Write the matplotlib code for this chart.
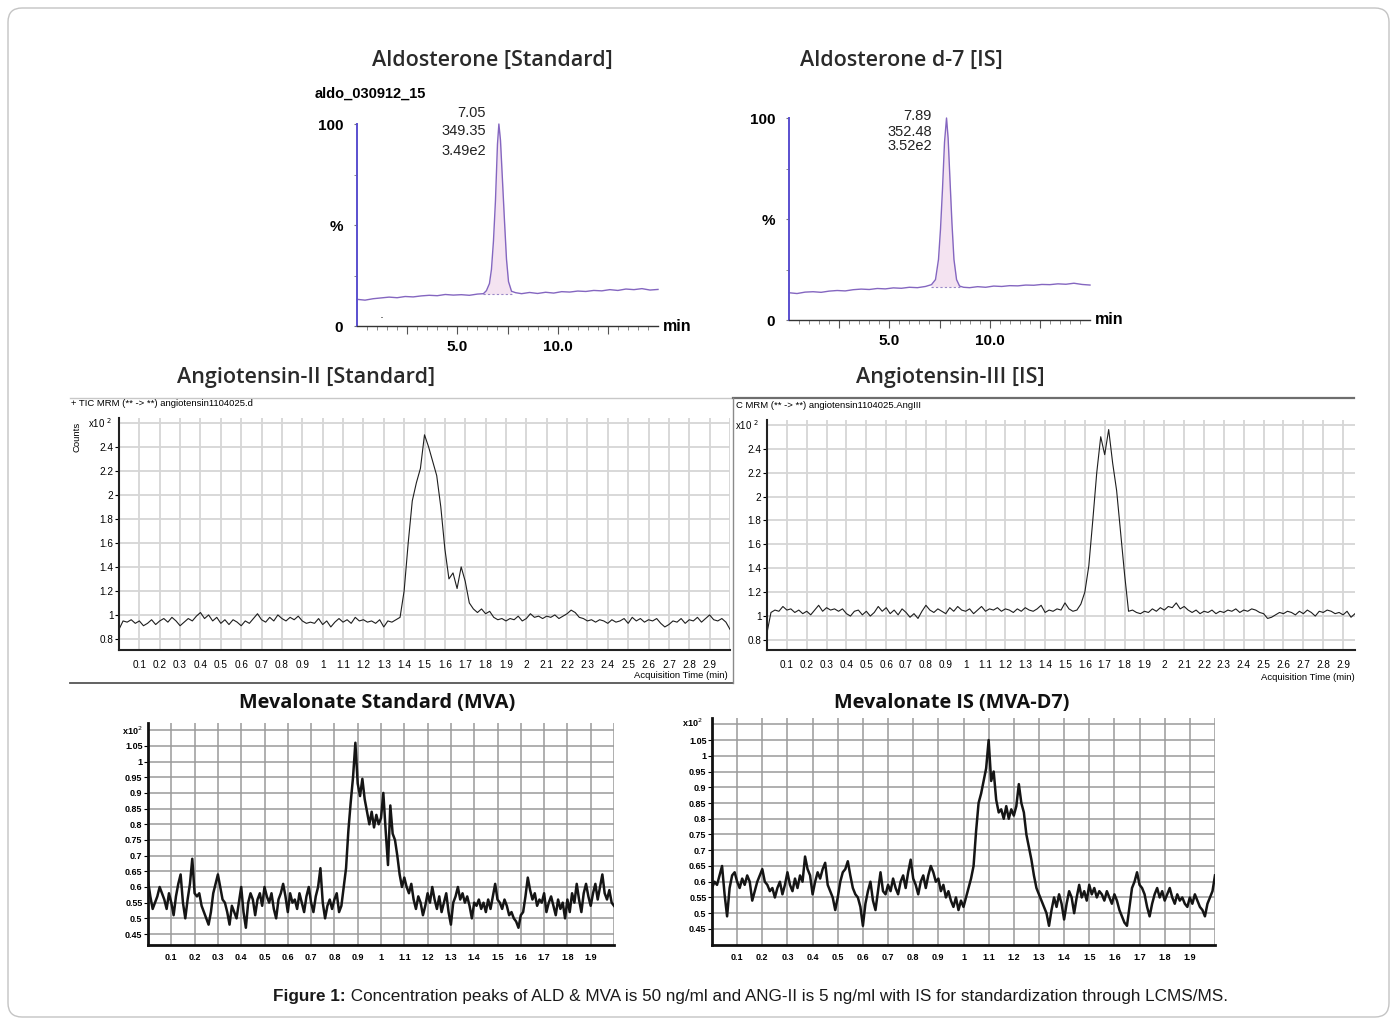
import numpy as np
import matplotlib
matplotlib.use('Agg')
import matplotlib.pyplot as plt
from matplotlib.patches import FancyBboxPatch

W, H = 1398, 1025

# ---- Aldosterone chromatograms (time in min, intensity in %) ----
aldo_std_t = [0.0, 0.4, 0.8, 1.2, 1.6, 2.0, 2.4, 2.8, 3.2, 3.6, 4.0, 4.4, 4.8, 5.2, 5.6, 6.0,
              6.3, 6.45, 6.6, 6.7, 6.8, 6.9, 7.0, 7.07, 7.15, 7.25, 7.35, 7.45, 7.55, 7.7,
              7.9, 8.2, 8.6, 9.0, 9.4, 9.8, 10.2, 10.6, 11.0, 11.4, 11.8, 12.2, 12.6, 13.0,
              13.4, 13.8, 14.2, 14.6, 15.0]
aldo_std_i = [13.2, 12.8, 13.5, 13.9, 14.3, 14.0, 14.6, 14.4, 14.9, 15.2, 15.0, 15.6, 15.3, 15.5, 15.2, 15.8,
              16.0, 17.5, 21.0, 28.0, 42.0, 62.0, 90.0, 100.0, 92.0, 72.0, 52.0, 33.0, 22.0, 17.2,
              16.5, 16.0, 16.6, 16.1, 16.7, 16.3, 17.0, 16.8, 17.3, 17.1, 17.6, 17.4, 18.0, 17.6,
              18.3, 18.0, 18.5, 17.8, 18.1]

aldo_is_t = [0.0, 0.4, 0.8, 1.2, 1.6, 2.0, 2.4, 2.8, 3.2, 3.6, 4.0, 4.4, 4.8, 5.2, 5.6, 6.0, 6.4, 6.8,
             7.1, 7.3, 7.45, 7.55, 7.65, 7.75, 7.85, 7.93, 8.02, 8.12, 8.22, 8.35, 8.5, 8.7,
             9.0, 9.4, 9.8, 10.2, 10.6, 11.0, 11.4, 11.8, 12.2, 12.6, 13.0, 13.4, 13.8, 14.2, 14.6, 15.0]
aldo_is_i = [13.5, 13.1, 13.8, 14.0, 13.7, 14.3, 14.6, 14.4, 15.0, 15.3, 15.1, 15.6, 15.4, 15.9, 15.7, 16.2, 16.0, 16.6,
             17.5, 20.0, 30.0, 45.0, 65.0, 88.0, 100.0, 90.0, 70.0, 48.0, 30.0, 20.0, 16.8, 16.2,
             16.0, 16.5, 16.2, 16.8, 16.6, 17.0, 16.9, 17.3, 17.2, 17.6, 17.5, 17.9, 17.7, 18.2, 17.6, 17.3]

# ---- Angiotensin traces (counts x10^2), 0.02 min sampling ----
ang2_t = np.linspace(0, 3.0, 151)
ang2_v = [0.88, 0.95, 0.94, 0.96, 0.93, 0.95, 0.91, 0.93, 0.96, 0.92,
          0.95, 0.97, 0.94, 0.98, 0.95, 0.91, 0.94, 0.97, 0.95, 0.99,
          1.02, 0.97, 1.00, 0.95, 0.98, 0.93, 0.96, 0.92, 0.96, 0.94,
          0.91, 0.95, 0.93, 0.97, 1.01, 0.96, 0.94, 0.98, 0.95, 1.00,
          0.97, 0.95, 0.98, 0.96, 0.99, 0.95, 0.93, 0.94, 0.93, 0.97,
          0.92, 0.95, 0.90, 0.94, 0.97, 0.94, 0.96, 0.93, 0.98, 0.95,
          0.96, 0.94, 0.95, 0.93, 0.96, 0.90, 0.95, 0.94, 0.96, 0.98,
          1.20, 1.60, 1.95, 2.10, 2.22, 2.50, 2.40, 2.28, 2.16, 1.90,
          1.55, 1.30, 1.35, 1.22, 1.40, 1.28, 1.10, 1.05, 1.02, 1.05,
          1.01, 1.03, 0.98, 0.96, 0.97, 0.95, 0.97, 0.96, 0.99, 0.95,
          0.97, 1.01, 0.98, 0.99, 0.97, 0.99, 0.98, 1.00, 0.97, 0.99,
          1.01, 1.04, 1.02, 0.98, 0.97, 0.95, 0.96, 0.94, 0.96, 0.95,
          0.93, 0.96, 0.94, 0.95, 0.97, 0.93, 0.98, 0.95, 0.97, 0.94,
          0.96, 0.95, 0.97, 0.93, 0.90, 0.92, 0.95, 0.94, 0.97, 0.93,
          0.96, 0.95, 0.98, 0.94, 0.97, 1.00, 0.96, 0.95, 0.97, 0.94,
          0.88]

ang3_t = np.linspace(0, 2.96, 149)
ang3_v = [0.86, 1.03, 1.05, 1.04, 1.08, 1.05, 1.06, 1.03, 1.05, 1.02,
          1.04, 1.01, 1.05, 1.09, 1.04, 1.07, 1.05, 1.06, 1.04, 1.06,
          1.02, 1.00, 1.04, 1.05, 1.01, 1.04, 1.00, 1.03, 1.08, 1.04,
          1.07, 1.02, 1.05, 1.01, 1.06, 1.03, 0.99, 1.02, 0.98, 1.04,
          1.09, 1.05, 1.03, 1.06, 1.04, 1.02, 1.07, 1.04, 1.08, 1.05,
          1.04, 1.06, 1.02, 1.05, 1.08, 1.04, 1.06, 1.05, 1.07, 1.04,
          1.06, 1.05, 1.03, 1.06, 1.04, 1.07, 1.05, 1.04, 1.06, 1.09,
          1.03, 1.05, 1.04, 1.06, 1.05, 1.11, 1.06, 1.04, 1.05, 1.10,
          1.20, 1.42, 1.80, 2.20, 2.50, 2.35, 2.56, 2.28, 2.05, 1.70,
          1.35, 1.04, 1.05, 1.03, 1.02, 1.04, 1.03, 1.06, 1.04, 1.07,
          1.05, 1.08, 1.07, 1.11, 1.06, 1.08, 1.05, 1.03, 1.05, 1.02,
          1.04, 1.03, 1.05, 1.02, 1.04, 1.03, 1.05, 1.04, 1.06, 1.03,
          1.05, 1.04, 1.06, 1.05, 1.03, 1.02, 0.98, 0.99, 1.01, 1.03,
          1.02, 1.04, 1.03, 1.01, 1.04, 1.02, 1.05, 1.03, 1.00, 1.04,
          1.03, 1.05, 1.04, 1.02, 1.03, 1.01, 1.04, 0.99, 1.02]

# ---- Mevalonate traces (x10^2), 0.01 min sampling ----
mva_t = np.linspace(0, 2.0, 201)
mva_std_v = [0.62, 0.57, 0.53, 0.55, 0.57, 0.60, 0.58, 0.56, 0.53, 0.58,
             0.55, 0.51, 0.57, 0.61, 0.64, 0.55, 0.50, 0.56, 0.61, 0.69,
             0.58, 0.57, 0.58, 0.54, 0.52, 0.50, 0.48, 0.52, 0.58, 0.61,
             0.64, 0.60, 0.56, 0.55, 0.52, 0.48, 0.54, 0.52, 0.50, 0.55,
             0.60, 0.52, 0.47, 0.55, 0.58, 0.56, 0.51, 0.56, 0.58, 0.54,
             0.60, 0.57, 0.55, 0.58, 0.53, 0.50, 0.56, 0.58, 0.61, 0.57,
             0.52, 0.58, 0.55, 0.56, 0.53, 0.58, 0.55, 0.52, 0.57, 0.60,
             0.55, 0.52, 0.57, 0.60, 0.66, 0.55, 0.50, 0.54, 0.56, 0.53,
             0.56, 0.58, 0.52, 0.54, 0.60, 0.66, 0.78, 0.87, 0.95, 1.06,
             0.93, 0.89, 0.945, 0.88, 0.84, 0.80, 0.84, 0.79, 0.83, 0.80,
             0.82, 0.90, 0.78, 0.67, 0.86, 0.77, 0.75, 0.70, 0.64, 0.60,
             0.63, 0.60, 0.58, 0.61, 0.56, 0.53, 0.57, 0.55, 0.51, 0.54,
             0.58, 0.55, 0.60, 0.56, 0.53, 0.57, 0.52, 0.55, 0.58, 0.52,
             0.48, 0.55, 0.57, 0.60, 0.56, 0.58, 0.55, 0.57, 0.54, 0.50,
             0.55, 0.54, 0.56, 0.53, 0.55, 0.52, 0.56, 0.53, 0.57, 0.61,
             0.56, 0.55, 0.53, 0.56, 0.54, 0.51, 0.52, 0.50, 0.49, 0.47,
             0.51, 0.52, 0.57, 0.63, 0.59, 0.56, 0.58, 0.54, 0.56, 0.55,
             0.58, 0.52, 0.55, 0.57, 0.54, 0.51, 0.56, 0.53, 0.55, 0.50,
             0.56, 0.52, 0.58, 0.55, 0.61, 0.56, 0.52, 0.58, 0.61, 0.57,
             0.54, 0.58, 0.61, 0.56, 0.60, 0.64, 0.58, 0.56, 0.59, 0.55,
             0.54]
mva_is_v = [0.58, 0.60, 0.59, 0.62, 0.65, 0.56, 0.49, 0.58, 0.62, 0.63,
            0.60, 0.58, 0.61, 0.59, 0.62, 0.60, 0.54, 0.57, 0.60, 0.62,
            0.64, 0.60, 0.59, 0.57, 0.58, 0.55, 0.58, 0.60, 0.56, 0.59,
            0.63, 0.59, 0.57, 0.61, 0.58, 0.62, 0.60, 0.68, 0.64, 0.62,
            0.56, 0.60, 0.63, 0.61, 0.64, 0.66, 0.59, 0.57, 0.55, 0.51,
            0.55, 0.60, 0.63, 0.64, 0.665, 0.62, 0.58, 0.56, 0.55, 0.52,
            0.46, 0.53, 0.57, 0.60, 0.54, 0.51, 0.57, 0.63, 0.57, 0.56,
            0.59, 0.57, 0.61, 0.58, 0.56, 0.60, 0.62, 0.58, 0.63, 0.67,
            0.61, 0.59, 0.56, 0.60, 0.62, 0.58, 0.62, 0.65, 0.63, 0.60,
            0.61, 0.57, 0.59, 0.55, 0.57, 0.54, 0.52, 0.55, 0.51, 0.54,
            0.52, 0.55, 0.58, 0.61, 0.65, 0.76, 0.85, 0.88, 0.92, 0.96,
            1.05, 0.92, 0.95, 0.86, 0.82, 0.83, 0.80, 0.84, 0.80, 0.83,
            0.81, 0.84, 0.91, 0.85, 0.82, 0.75, 0.71, 0.67, 0.62, 0.58,
            0.56, 0.54, 0.52, 0.50, 0.46, 0.51, 0.55, 0.52, 0.56, 0.53,
            0.48, 0.53, 0.57, 0.55, 0.50, 0.55, 0.59, 0.55, 0.57, 0.54,
            0.59, 0.56, 0.58, 0.55, 0.57, 0.56, 0.54, 0.57, 0.55, 0.53,
            0.56, 0.54, 0.51, 0.49, 0.47, 0.46, 0.52, 0.58, 0.60, 0.63,
            0.59, 0.58, 0.56, 0.52, 0.49, 0.53, 0.56, 0.58, 0.55, 0.57,
            0.54, 0.56, 0.58, 0.55, 0.53, 0.56, 0.54, 0.55, 0.53, 0.52,
            0.55, 0.53, 0.56, 0.54, 0.52, 0.51, 0.49, 0.53, 0.55, 0.57,
            0.62]

ang_yticks = [0.8, 1.0, 1.2, 1.4, 1.6, 1.8, 2.0, 2.2, 2.4]
ang_xticks = [round(0.1 * k, 1) for k in range(1, 30)]
mva_yticks = [0.45, 0.5, 0.55, 0.6, 0.65, 0.7, 0.75, 0.8, 0.85, 0.9, 0.95, 1.0, 1.05]
mva_xticks = [round(0.1 * k, 1) for k in range(1, 20)]

SANS = 'Liberation Sans'
TITLE = 'Open Sans'

fig = plt.figure(figsize=(W / 100, H / 100), dpi=100)
bg = fig.add_axes([0, 0, 1, 1])
bg.set_xlim(0, W)
bg.set_ylim(H, 0)
bg.axis('off')

# outer frame and separators
bg.add_patch(FancyBboxPatch((8, 8), W - 17, H - 16, boxstyle='round,pad=0,rounding_size=14',
                            fc='none', ec='#c4c4c4', lw=1.0))
bg.plot([70, 731], [398, 398], color='#c8c8c8', lw=1.0)
bg.plot([733, 1354], [398, 398], color='#6e6e6e', lw=1.6)
bg.plot([70, 733], [683, 683], color='#555555', lw=1.3)
bg.plot([733, 733], [398, 683], color='#8a8a8a', lw=1.0)


def px_axes(x0, y0, x1, y1):
    return fig.add_axes([x0 / W, 1 - y1 / H, (x1 - x0) / W, (y1 - y0) / H])


def fmt(v):
    return f"{v:g}"


def draw_aldo(ax, t, y, lo, hi, base):
    t = np.array(t)
    y = np.array(y)
    m = (t >= lo) & (t <= hi)
    ax.fill_between(t[m], y[m], base, color='#f4e3f1', lw=0)
    ax.plot([lo, hi], [base, base], color='#9a88c8', lw=0.8, ls=(0, (2, 2)))
    ax.plot(t, y, color='#8466c0', lw=1.0, clip_on=False)
    ax.set_xlim(0, 15)
    ax.set_ylim(0, 100)
    for s in ['top', 'right']:
        ax.spines[s].set_visible(False)
    ax.spines['left'].set_color('#5a4fcf')
    ax.spines['left'].set_linewidth(1.4)
    ax.spines['bottom'].set_color('#333333')
    ax.spines['bottom'].set_linewidth(1.0)
    ax.set_xticks([2.5, 5.0, 7.5, 10.0, 12.5])
    ax.set_xticklabels(['', '5.0', '', '10.0', ''], fontsize=11, fontweight='bold', family=SANS)
    ax.set_xticks([k * 0.5 for k in range(1, 30)], minor=True)
    ax.tick_params(axis='x', which='major', length=6, color='#555', pad=4)
    ax.tick_params(axis='x', which='minor', length=3, color='#777')
    ax.set_yticks([0, 50, 100])
    ax.set_yticklabels(['0', '%', '100'], fontsize=11, fontweight='bold', family=SANS)
    ax.set_yticks([25, 75], minor=True)
    ax.tick_params(axis='y', which='both', length=2, color='#777', pad=8)
    ax.text(1.015, 0, 'min', transform=ax.transAxes, va='center', ha='left',
            fontsize=11.5, fontweight='bold', family=SANS)
    ax.patch.set_alpha(0)


def draw_ang(ax, t, v, xmax, ymin, ymax):
    for x in ang_xticks + [3.0]:
        if x <= xmax:
            ax.axvline(x, color='#d6d6d6', lw=1.3, zorder=0)
    for y in ang_yticks + [2.6]:
        ax.axhline(y, color='#d6d6d6', lw=1.3, zorder=0)
    ax.plot(t, v, color='#1e1e1e', lw=0.8)
    ax.set_xlim(0, xmax)
    ax.set_ylim(ymin, ymax)
    for s in ['top', 'right']:
        ax.spines[s].set_visible(False)
    for s in ['left', 'bottom']:
        ax.spines[s].set_linewidth(1.5)
        ax.spines[s].set_color('#222')
    ax.set_xticks(ang_xticks)
    ax.set_xticklabels([fmt(x) for x in ang_xticks], fontsize=7.2, family=SANS)
    ax.set_yticks(ang_yticks)
    ax.set_yticklabels([fmt(y) for y in ang_yticks], fontsize=7.2, family=SANS)
    ax.tick_params(axis='x', length=0, pad=7)
    ax.tick_params(axis='y', length=3, pad=1)
    ax.patch.set_alpha(0)


def draw_mva(ax, t, v, ymin, ymax):
    for x in mva_xticks + [2.0]:
        ax.axvline(x, color='#9a9a9a', lw=1.1, zorder=0)
    for y in mva_yticks + [1.1]:
        ax.axhline(y, color='#9a9a9a', lw=1.1, zorder=0)
    ax.plot(t, v, color='#151515', lw=1.8)
    ax.set_xlim(0, 2.0)
    ax.set_ylim(ymin, ymax)
    for s in ['top', 'right']:
        ax.spines[s].set_visible(False)
    for s in ['left', 'bottom']:
        ax.spines[s].set_linewidth(2.0)
        ax.spines[s].set_color('#111')
    ax.set_xticks(mva_xticks)
    ax.set_xticklabels([fmt(x) for x in mva_xticks], fontsize=6.5, fontweight='bold', family=SANS)
    ax.set_yticks(mva_yticks)
    ax.set_yticklabels([fmt(y) for y in mva_yticks], fontsize=6.5, fontweight='bold', family=SANS)
    ax.tick_params(axis='x', length=0, pad=6)
    ax.tick_params(axis='y', length=3, pad=1)
    ax.patch.set_alpha(0)


# ---- top row: aldosterone ----
ax1 = px_axes(357, 124, 658, 326)
draw_aldo(ax1, aldo_std_t, aldo_std_i, 6.3, 7.7, 15.8)
ax2 = px_axes(789, 118, 1090, 320)
draw_aldo(ax2, aldo_is_t, aldo_is_i, 7.1, 8.5, 16.4)

bg.text(492, 60, 'Aldosterone [Standard]', ha='center', va='center', fontsize=15.5,
        fontweight='semibold', family=TITLE, color='#2a2a2a')
bg.text(901, 60, 'Aldosterone d-7 [IS]', ha='center', va='center', fontsize=15.5,
        fontweight='semibold', family=TITLE, color='#2a2a2a')
bg.text(315, 94, 'aldo_030912_15', ha='left', va='center', fontsize=10.5, fontweight='bold', family=SANS)
for txt, yy in [('7.05', 113), ('349.35', 131), ('3.49e2', 151)]:
    bg.text(486, yy, txt, ha='right', va='center', fontsize=10.5, family=SANS, color='#222')
for txt, yy in [('7.89', 116), ('352.48', 132), ('3.52e2', 146)]:
    bg.text(932, yy, txt, ha='right', va='center', fontsize=10.5, family=SANS, color='#222')
bg.text(382, 315, '.', ha='center', va='center', fontsize=9, color='#333')

# ---- middle row: angiotensin ----
ax3 = px_axes(119, 418, 730, 650)
draw_ang(ax3, ang2_t, ang2_v, 3.0, 0.708, 2.64)
ax4 = px_axes(767, 420, 1355, 650)
draw_ang(ax4, ang3_t, ang3_v, 2.96, 0.716, 2.64)

bg.text(306, 378, 'Angiotensin-II [Standard]', ha='center', va='center', fontsize=15.5,
        fontweight='semibold', family=TITLE, color='#2a2a2a')
bg.text(950, 378, 'Angiotensin-III [IS]', ha='center', va='center', fontsize=15.5,
        fontweight='semibold', family=TITLE, color='#2a2a2a')
bg.text(71, 404, '+ TIC MRM (** -> **) angiotensin1104025.d', ha='left', va='center', fontsize=6.8, family=SANS)
bg.text(736, 406, 'C MRM (** -> **) angiotensin1104025.AngIII', ha='left', va='center', fontsize=6.8, family=SANS)
bg.text(77, 437, 'Counts', rotation=90, ha='center', va='center', fontsize=6.8, family=SANS)
bg.text(88, 423, 'x10 $^{2}$', ha='left', va='center', fontsize=7, family=SANS)
bg.text(735, 425, 'x10 $^{2}$', ha='left', va='center', fontsize=7, family=SANS)
bg.text(728, 675, 'Acquisition Time (min)', ha='right', va='center', fontsize=6.8, family=SANS)
bg.text(1355, 677, 'Acquisition Time (min)', ha='right', va='center', fontsize=6.8, family=SANS)

# ---- bottom row: mevalonate ----
ax5 = px_axes(148, 723, 614, 945)
draw_mva(ax5, mva_t, mva_std_v, 0.415, 1.123)
ax6 = px_axes(712, 718, 1215, 945)
draw_mva(ax6, mva_t, mva_is_v, 0.399, 1.12)

bg.text(377, 703, 'Mevalonate Standard (MVA)', ha='center', va='center', fontsize=14.3,
        fontweight='bold', family=TITLE, color='#111')
bg.text(952, 703, 'Mevalonate IS (MVA-D7)', ha='center', va='center', fontsize=14.3,
        fontweight='bold', family=TITLE, color='#111')
bg.text(122, 731, 'x10$^{2}$', ha='left', va='center', fontsize=6.5, fontweight='bold', family=SANS)
bg.text(682, 723, 'x10$^{2}$', ha='left', va='center', fontsize=6.5, fontweight='bold', family=SANS)

# ---- caption ----
cap = bg.text(273, 997, 'Figure 1:', ha='left', va='center', fontsize=12.3, fontweight='bold',
              family=SANS, color='#1a1a1a')
bg.annotate(' Concentration peaks of ALD & MVA is 50 ng/ml and ANG-II is 5 ng/ml with IS for '
            'standardization through LCMS/MS.', xy=(1, 0.5), xycoords=cap, ha='left', va='center',
            fontsize=12.3, family=SANS, color='#1a1a1a')

fig.savefig('out.png', dpi=100)
